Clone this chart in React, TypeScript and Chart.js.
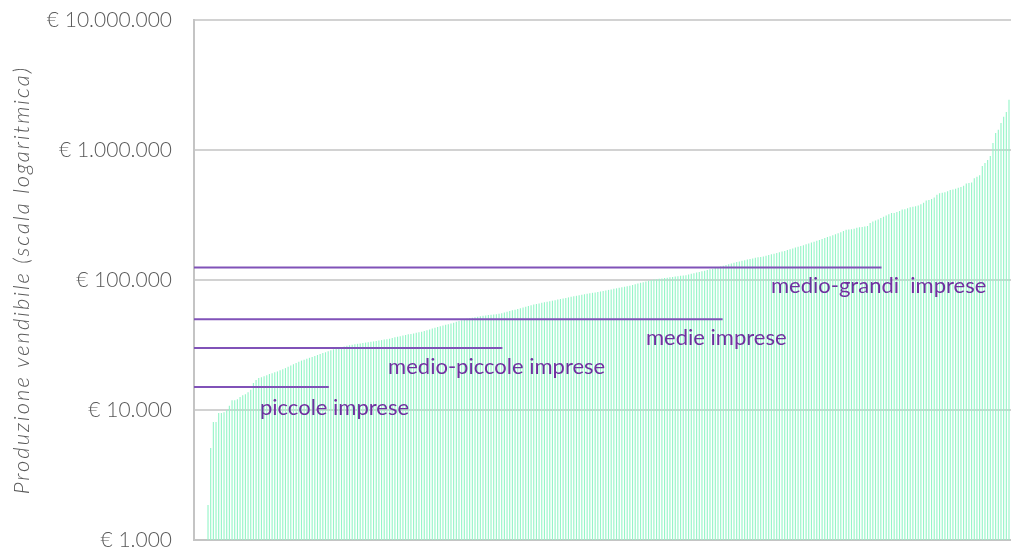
import React, { useEffect, useRef } from "react";
import { Chart, registerables } from "chart.js";

Chart.register(...registerables);

// Aziende ordinate per produzione vendibile (euro), dalla più piccola alla più grande
const produzioneVendibile: number[] = [
  420, 560, 690, 810, 930,
  1860, 5100, 8100, 8100, 9500, 9500, 9600, 10000, 10800, 11900,
  11900, 12100, 12600, 13000, 13200, 13700, 14300, 16100, 17000, 17600,
  17900, 18200, 18500, 18900, 19200, 19500, 19800, 20200, 20600, 21000,
  21500, 22000, 22500, 23000, 23500,
  24000, 24400, 24800, 25200, 25600, 26000, 26500, 27000, 27400, 27800,
  28300, 28800, 29300, 29700, 30100, 30500, 30800, 31200, 31500,
  31800, 32000, 32300, 32500, 32800, 33000, 33200, 33500, 33700, 34000,
  34200, 34500, 34800, 35000, 35400, 35800, 36200, 36600, 37000, 37400,
  37800, 38200, 38500, 38800, 39200, 39600, 40000,
  40500, 41100, 41700, 42300, 42900, 43500, 44000, 44600, 45200, 45700,
  46300, 47000, 47700, 48400, 49100, 49700, 50300, 50800, 51300, 51800,
  52200, 52600, 53000, 53400, 53700,
  54000, 54300, 54600, 55000, 55600, 56300, 57000, 57700, 58400, 59100,
  59800, 60600, 61400, 62200, 63000, 64000, 64700, 65400, 66000, 66700,
  67300, 68000, 68600, 69300, 70000, 70700, 71400, 72100, 72800,
  73500, 74200, 74900, 75600, 76300, 77000, 77700, 78400, 79100, 79700,
  80300, 80900, 81600, 82300, 83100, 83900, 84700, 85500, 86300, 87100,
  87900, 88700, 89600, 90500, 91500, 92700, 93900, 95100, 96300, 97500,
  98700, 100000,
  100700, 101400, 102100, 102800, 103500, 104200, 104900, 105600, 106300, 107000,
  107700, 108400, 109000, 110200, 111500, 112800, 114100, 115400, 116700, 118000,
  119400, 120800, 122200, 123700, 125200,
  127000, 128800, 130600, 132400, 134200, 136000, 137500, 139000, 140500, 142000,
  143500, 145000, 146500, 148000, 149500, 150500, 151500, 153500, 155500, 157500,
  159500, 161500, 163500, 165500, 167500, 170000,
  172500, 175000, 177500, 180000, 182500, 185000, 188000, 191000, 194000, 197000,
  200000, 203500, 207000, 210500, 214000, 217500, 221000, 225000, 229000, 233000,
  238000, 243000,
  245000, 246000, 248000, 252000, 254000, 256000, 258000, 260000, 275000, 282000,
  287000, 292000, 300000,
  306000, 314000, 320000, 327000, 328000, 333000, 340000, 348000, 350000, 356000,
  362000, 366000, 370000, 374000, 382000, 393000, 408000, 413000, 420000, 432000,
  452000, 464000, 470000, 474000, 482000, 492000, 497000, 503000, 512000, 520000,
  530000, 552000, 558000, 563000, 606000, 623000, 638000,
  754000, 794000, 838000, 899000, 1130000, 1350000, 1430000, 1610000, 1800000, 1960000,
  2430000,
];

// Posizione in classifica di ogni azienda (asse x, senza etichette)
const rankLabels: string[] = produzioneVendibile.map((_, i) => String(i + 1));

// Tacche dell'asse logaritmico
const yTickValues: number[] = [1000, 10000, 100000, 1000000, 10000000];

const yAxisTitle = "Produzione vendibile (scala logaritmica)";

// Classi dimensionali: nome, soglia (euro) e posizione in classifica dove termina la linea
const classNames: string[] = [
  "piccole imprese",
  "medio-piccole imprese",
  "medie imprese",
  "medio-grandi  imprese",
];
const classThresholds: number[] = [15000, 30000, 50000, 125000];
const classLineEndRank: number[] = [50.5, 115.5, 198, 257.5];

// Ancoraggio dei nomi delle classi (rank, euro)
const classLabelRank: number[] = [24.7, 72.7, 169.3, 216.1];
const classLabelValue: number[] = [10400, 21400, 35800, 89900];

const formatEuro = (v: number): string =>
  "€ " + Math.round(v).toString().replace(/\B(?=(\d{3})+(?!\d))/g, ".");

// Nomi delle classi accanto alle rispettive soglie
const classLabelsPlugin = {
  id: "classLabels",
  afterDatasetsDraw(chart: any) {
    const { ctx } = chart;
    const xs = chart.scales.xl;
    const ys = chart.scales.y;
    ctx.save();
    ctx.font = "400 22px Lato";
    ctx.fillStyle = "#7030a0";
    ctx.textAlign = "left";
    ctx.textBaseline = "middle";
    classNames.forEach((name, k) => {
      ctx.fillText(
        name,
        xs.getPixelForValue(classLabelRank[k]),
        ys.getPixelForValue(classLabelValue[k])
      );
    });
    ctx.restore();
  },
};

// Titolo verticale dell'asse y, spaziato
const yTitlePlugin = {
  id: "yTitle",
  afterDraw(chart: any) {
    const { ctx, chartArea } = chart;
    ctx.save();
    ctx.translate(22, (chartArea.top + chartArea.bottom) / 2);
    ctx.rotate(-Math.PI / 2);
    ctx.font = "italic 300 22px Lato";
    (ctx as any).letterSpacing = "2px";
    ctx.fillStyle = "#595959";
    ctx.textAlign = "center";
    ctx.textBaseline = "middle";
    ctx.fillText(yAxisTitle, 0, 0);
    ctx.restore();
  },
};

export default function App() {
  const canvasRef = useRef<HTMLCanvasElement | null>(null);

  useEffect(() => {
    const canvas = canvasRef.current;
    if (!canvas) return;

    const thresholdDatasets = classThresholds.map((t, k) => ({
      type: "line" as const,
      label: classNames[k],
      data: [
        { x: 0, y: t },
        { x: classLineEndRank[k], y: t },
      ],
      xAxisID: "xl",
      yAxisID: "y",
      borderColor: "#8052b8",
      borderWidth: 2,
      pointRadius: 0,
      fill: false,
      order: 1,
    }));

    const chart = new Chart(canvas, {
      type: "bar",
      data: {
        labels: rankLabels,
        datasets: [
          {
            type: "bar" as const,
            label: "Produzione vendibile",
            data: produzioneVendibile,
            backgroundColor: "#96f5c8",
            borderWidth: 0,
            barPercentage: 0.85,
            categoryPercentage: 1,
            xAxisID: "x",
            yAxisID: "y",
            order: 2,
          },
          ...thresholdDatasets,
        ] as any,
      },
      options: {
        responsive: false,
        animation: false,
        layout: { padding: { top: 20, bottom: 10, left: 0, right: 0 } },
        plugins: {
          legend: { display: false },
          tooltip: { enabled: false },
        },
        scales: {
          x: {
            type: "category",
            ticks: { display: false },
            grid: { display: false, drawTicks: false },
            border: { display: true, color: "#c4c4c4", width: 2 },
            afterFit: (scale: any) => {
              scale.height = 0;
            },
          },
          xl: {
            type: "linear",
            display: false,
            offset: false,
            grid: { offset: false },
            min: 0,
            max: produzioneVendibile.length,
          },
          y: {
            type: "logarithmic",
            min: 1000,
            max: 10000000,
            afterBuildTicks: (scale: any) => {
              scale.ticks = yTickValues.map((v) => ({ value: v }));
            },
            afterFit: (scale: any) => {
              scale.width = 194;
              scale.paddingTop = 0;
              scale.paddingBottom = 0;
            },
            ticks: {
              callback: (v: any) => formatEuro(Number(v)),
              color: "#595959",
              padding: 22,
              font: { family: "Lato", size: 21, weight: "300" as any, lineHeight: 1 },
            },
            grid: { color: "#d2d2d2", lineWidth: 2, drawTicks: false },
            border: { display: true, color: "#c4c4c4", width: 2 },
            title: { display: false },
          },
        },
      },
      plugins: [classLabelsPlugin, yTitlePlugin],
    });

    return () => chart.destroy();
  }, []);

  return (
    <div style={{ position: "fixed", left: 0, top: 0, width: 1011, height: 550, background: "#ffffff" }}>
      <canvas ref={canvasRef} width={1011} height={550} style={{ display: "block" }} />
    </div>
  );
}
